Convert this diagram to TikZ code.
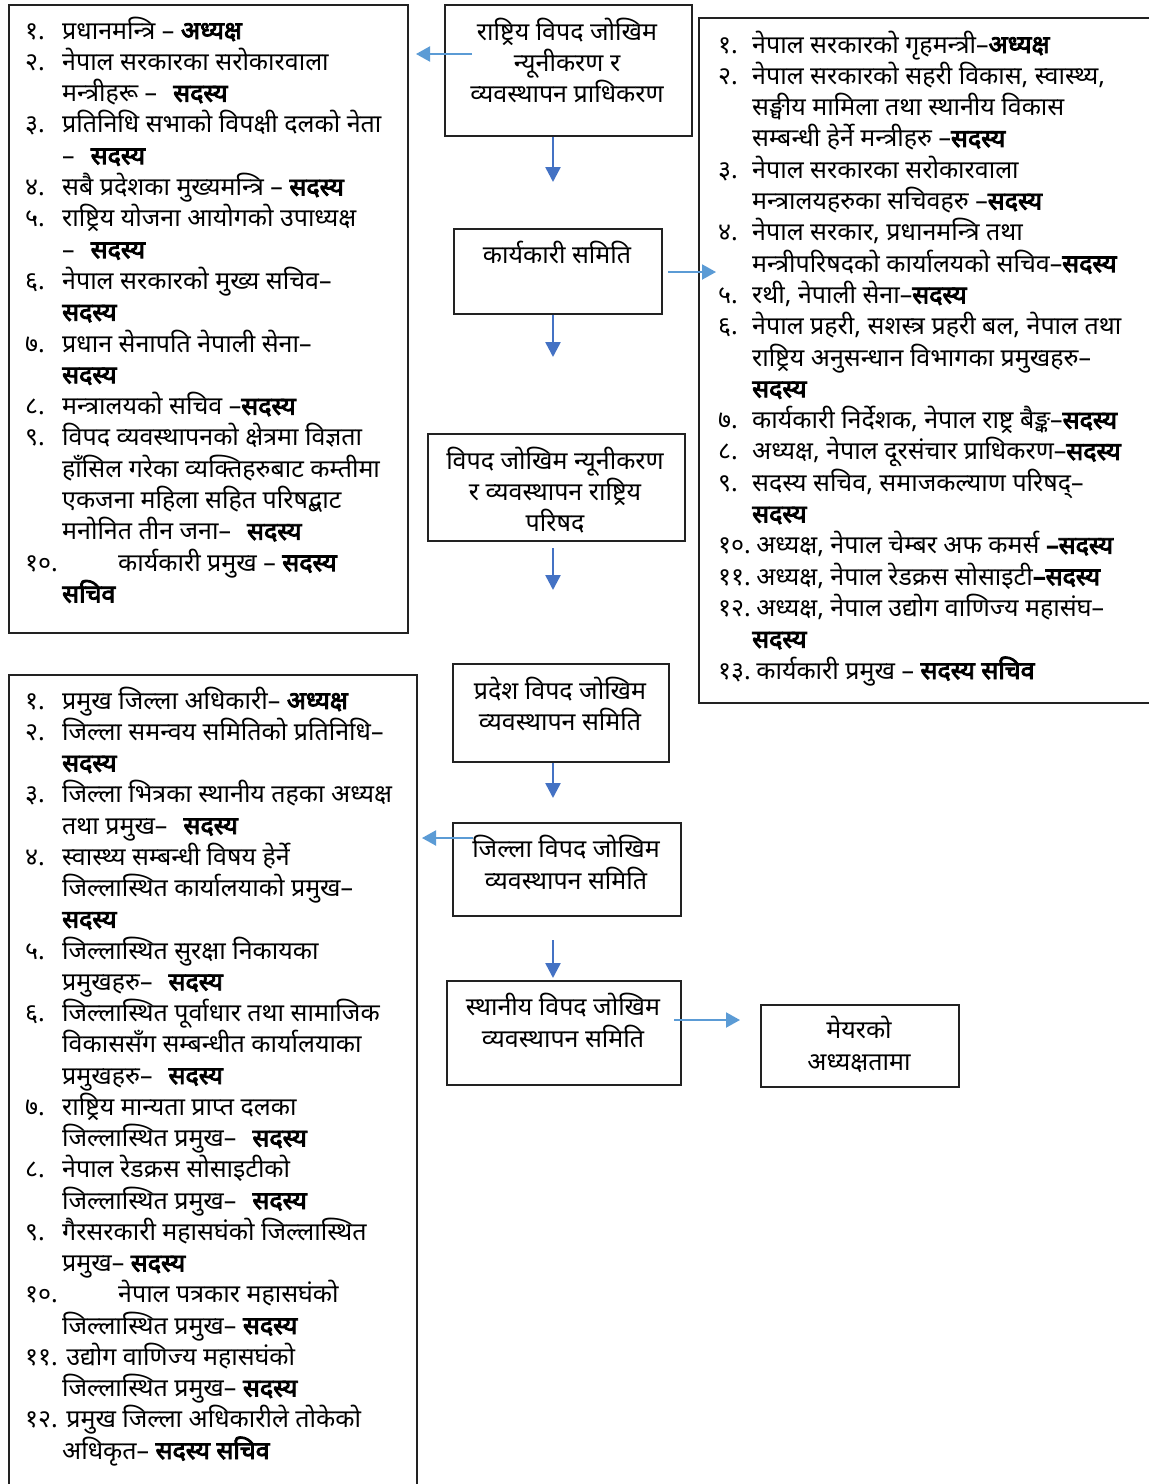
\documentclass[tikz,border=0pt]{standalone}
\usepackage{fontspec}
\setmainfont[Script=Devanagari,AutoFakeBold=3.5]{Noto Sans}
\usetikzlibrary{arrows.meta}
\definecolor{lblue}{HTML}{5B9BD5}
\definecolor{dblue}{HTML}{4472C4}
\definecolor{bord}{HTML}{222222}
\newcommand\fs{\fontsize{25}{30}\selectfont}
\newcommand\nA[1]{\makebox[37pt][l]{#1}}
\newcommand\nB[1]{\makebox[34pt][l]{#1}}
\newcommand\nC[1]{\makebox[93pt][l]{#1}}
\newcommand\gap{\hspace{16pt}}
\begin{document}
\begin{tikzpicture}[x=1pt,y=-1pt,
  boxx/.style={draw=bord,line width=1.6pt,inner sep=0,anchor=north west},
  ln/.style={anchor=base west,inner sep=0,font=\fs},
  cl/.style={anchor=base,inner sep=0,font=\fs},
  larr/.style={draw=lblue,line width=2pt,-{Triangle[width=15pt,length=14pt,fill=lblue]}},
  darr/.style={draw=dblue,line width=2.5pt,-{Triangle[width=15pt,length=15pt,fill=dblue]}}]
\useasboundingbox (0,0) rectangle (1149,1484);
\fill[white] (0,0) rectangle (1149,1484);
% boxes
\node[boxx,minimum width=399pt,minimum height=628pt] (L1) at (8,4) {};
\node[boxx,minimum width=247pt,minimum height=131pt] (A) at (444,4) {};
\node[boxx,minimum width=208pt,minimum height=85pt] (B) at (453,228) {};
\node[boxx,minimum width=257pt,minimum height=107pt] (C) at (427,433) {};
\node[boxx,minimum width=470pt,minimum height=685pt] (R1) at (698,17) {};
\node[boxx,minimum width=216pt,minimum height=98pt] (D) at (452,663) {};
\node[boxx,minimum width=228pt,minimum height=93pt] (E) at (452,822) {};
\node[boxx,minimum width=234pt,minimum height=104pt] (F) at (446,980) {};
\node[boxx,minimum width=198pt,minimum height=82pt] (G) at (760,1004) {};
\node[boxx,minimum width=408pt,minimum height=830pt] (L2) at (8,674) {};
% center box texts
\node[cl] (A1) at (567,40) {राष्ट्रिय विपद जोखिम};
\node[cl] (A2) at (567,71) {न्यूनीकरण र};
\node[cl] (A3) at (567,102) {व्यवस्थापन प्राधिकरण};
\node[cl] (B1) at (557,263) {कार्यकारी समिति};
\node[cl] (C1) at (555,469) {विपद जोखिम न्यूनीकरण};
\node[cl] (C2) at (555,500) {र व्यवस्थापन राष्ट्रिय};
\node[cl] (C3) at (555,531) {परिषद};
\node[cl] (D1) at (560,699) {प्रदेश विपद जोखिम};
\node[cl] (D2) at (560,730) {व्यवस्थापन समिति};
\node[cl] (E1) at (566,857) {जिल्ला विपद जोखिम};
\node[cl] (E2) at (566,889) {व्यवस्थापन समिति};
\node[cl] (F1) at (563,1015) {स्थानीय विपद जोखिम};
\node[cl] (F2) at (563,1047) {व्यवस्थापन समिति};
\node[cl] (G1) at (859,1038) {मेयरको};
\node[cl] (G2) at (859,1070) {अध्यक्षतामा};
% top-left list
\foreach \t [count=\i] in {
 {\nA{१.}प्रधानमन्त्रि – \textbf{अध्यक्ष}},
 {\nA{२.}नेपाल सरकारका सरोकारवाला},
 {\nA{}मन्त्रीहरू –\gap\textbf{सदस्य}},
 {\nA{३.}प्रतिनिधि सभाको विपक्षी दलको नेता},
 {\nA{}–\gap\textbf{सदस्य}},
 {\nA{४.}सबै प्रदेशका मुख्यमन्त्रि – \textbf{सदस्य}},
 {\nA{५.}राष्ट्रिय योजना आयोगको उपाध्यक्ष},
 {\nA{}–\gap\textbf{सदस्य}},
 {\nA{६.}नेपाल सरकारको मुख्य सचिव–},
 {\nA{}\textbf{सदस्य}},
 {\nA{७.}प्रधान सेनापति नेपाली सेना–},
 {\nA{}\textbf{सदस्य}},
 {\nA{८.}मन्त्रालयको सचिव –\textbf{सदस्य}},
 {\nA{९.}विपद व्यवस्थापनको क्षेत्रमा विज्ञता},
 {\nA{}हाँसिल गरेका व्यक्तिहरुबाट कम्तीमा},
 {\nA{}एकजना महिला सहित परिषद्बाट},
 {\nA{}मनोनित तीन जना–\gap\textbf{सदस्य}},
 {\nC{१०.}कार्यकारी प्रमुख – \textbf{सदस्य}},
 {\nA{}\textbf{सचिव}}
}{\node[ln] (lt\i) at (25,{39+31.3*(\i-1)}) {\t};}
% right list
\foreach \t [count=\i] in {
 {\nB{१.}नेपाल सरकारको गृहमन्त्री–\textbf{अध्यक्ष}},
 {\nB{२.}नेपाल सरकारको सहरी विकास, स्वास्थ्य,},
 {\nB{}सङ्घीय मामिला तथा स्थानीय विकास},
 {\nB{}सम्बन्धी हेर्ने मन्त्रीहरु –\textbf{सदस्य}},
 {\nB{३.}नेपाल सरकारका सरोकारवाला},
 {\nB{}मन्त्रालयहरुका सचिवहरु –\textbf{सदस्य}},
 {\nB{४.}नेपाल सरकार, प्रधानमन्त्रि तथा},
 {\nB{}मन्त्रीपरिषदको कार्यालयको सचिव–\textbf{सदस्य}},
 {\nB{५.}रथी, नेपाली सेना–\textbf{सदस्य}},
 {\nB{६.}नेपाल प्रहरी, सशस्त्र प्रहरी बल, नेपाल तथा},
 {\nB{}राष्ट्रिय अनुसन्धान विभागका प्रमुखहरु–},
 {\nB{}\textbf{सदस्य}},
 {\nB{७.}कार्यकारी निर्देशक, नेपाल राष्ट्र बैङ्क–\textbf{सदस्य}},
 {\nB{८.}अध्यक्ष, नेपाल दूरसंचार प्राधिकरण–\textbf{सदस्य}},
 {\nB{९.}सदस्य सचिव, समाजकल्याण परिषद्–},
 {\nB{}\textbf{सदस्य}},
 {\nB{१०.}\,अध्यक्ष, नेपाल चेम्बर अफ कमर्स \textbf{–सदस्य}},
 {\nB{११.}\,अध्यक्ष, नेपाल रेडक्रस सोसाइटी\textbf{–सदस्य}},
 {\nB{१२.}\,अध्यक्ष, नेपाल उद्योग वाणिज्य महासंघ–},
 {\nB{}\textbf{सदस्य}},
 {\nB{१३.}\,कार्यकारी प्रमुख – \textbf{सदस्य सचिव}}
}{\node[ln] (rt\i) at (718,{53+31.3*(\i-1)}) {\t};}
% bottom-left list
\foreach \t [count=\i] in {
 {\nA{१.}प्रमुख जिल्ला अधिकारी– \textbf{अध्यक्ष}},
 {\nA{२.}जिल्ला समन्वय समितिको प्रतिनिधि–},
 {\nA{}\textbf{सदस्य}},
 {\nA{३.}जिल्ला भित्रका स्थानीय तहका अध्यक्ष},
 {\nA{}तथा प्रमुख–\gap\textbf{सदस्य}},
 {\nA{४.}स्वास्थ्य सम्बन्धी विषय हेर्ने},
 {\nA{}जिल्लास्थित कार्यालयाको प्रमुख–},
 {\nA{}\textbf{सदस्य}},
 {\nA{५.}जिल्लास्थित सुरक्षा निकायका},
 {\nA{}प्रमुखहरु–\gap\textbf{सदस्य}},
 {\nA{६.}जिल्लास्थित पूर्वाधार तथा सामाजिक},
 {\nA{}विकाससँग सम्बन्धीत कार्यालयाका},
 {\nA{}प्रमुखहरु–\gap\textbf{सदस्य}},
 {\nA{७.}राष्ट्रिय मान्यता प्राप्त दलका},
 {\nA{}जिल्लास्थित प्रमुख–\gap\textbf{सदस्य}},
 {\nA{८.}नेपाल रेडक्रस सोसाइटीको},
 {\nA{}जिल्लास्थित प्रमुख–\gap\textbf{सदस्य}},
 {\nA{९.}गैरसरकारी महासघंको जिल्लास्थित},
 {\nA{}प्रमुख– \textbf{सदस्य}},
 {\nC{१०.}नेपाल पत्रकार महासघंको},
 {\nA{}जिल्लास्थित प्रमुख– \textbf{सदस्य}},
 {\nA{११.}\,उद्योग वाणिज्य महासघंको},
 {\nA{}जिल्लास्थित प्रमुख– \textbf{सदस्य}},
 {\nA{१२.}\,प्रमुख जिल्ला अधिकारीले तोकेको},
 {\nA{}अधिकृत– \textbf{सदस्य सचिव}}
}{\node[ln] (lb\i) at (25,{709+31.25*(\i-1)}) {\t};}
% connector ends
\coordinate (a1s) at (472,54);  \coordinate (a1e) at (416,54);
\coordinate (c1) at (553,182);
\coordinate (c2) at (553,357);
\coordinate (b1s) at (668,272); \coordinate (b1e) at (716,272);
\coordinate (c3s) at (553,548); \coordinate (c3e) at (553,590);
\coordinate (c4) at (553,798);
\coordinate (e1s) at (473,838); \coordinate (e1e) at (422,838);
\coordinate (c5s) at (553,940); \coordinate (c5e) at (553,978);
\coordinate (f1s) at (674,1020); \coordinate (f1e) at (740,1020);
% connectors
\draw[larr] (a1s) -- (a1e);
\draw[darr] (A.south -| c1) -- (c1);
\draw[darr] (B.south -| c2) -- (c2);
\draw[larr] (b1s) -- (b1e);
\draw[darr] (c3s) -- (c3e);
\draw[darr] (D.south -| c4) -- (c4);
\draw[larr] (e1s) -- (e1e);
\draw[darr] (c5s) -- (c5e);
\draw[larr] (f1s) -- (f1e);
\end{tikzpicture}
\end{document}
